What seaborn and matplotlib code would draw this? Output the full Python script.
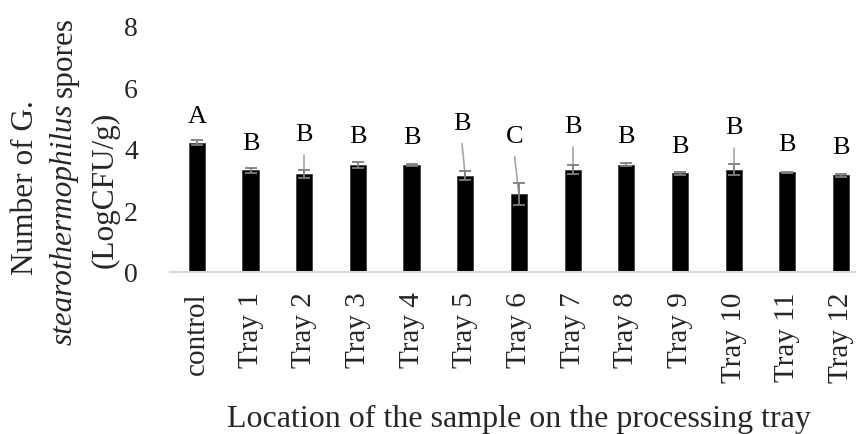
import matplotlib
matplotlib.use("Agg")
import matplotlib.pyplot as plt
import seaborn as sns
import pandas as pd

categories = ["control", "Tray 1", "Tray 2", "Tray 3", "Tray 4", "Tray 5", "Tray 6",
              "Tray 7", "Tray 8", "Tray 9", "Tray 10", "Tray 11", "Tray 12"]
means = [4.20, 3.30, 3.18, 3.47, 3.47, 3.12, 2.52, 3.32, 3.49, 3.20, 3.32, 3.23, 3.14]
errors = [0.09, 0.09, 0.12, 0.10, 0.04, 0.15, 0.36, 0.14, 0.04, 0.05, 0.18, 0.03, 0.05]
letters = ["A", "B", "B", "B", "B", "B", "C", "B", "B", "B", "B", "B", "B"]
letter_y = [5.06, 4.18, 4.48, 4.42, 4.38, 4.84, 4.42, 4.74, 4.41, 4.10, 4.70, 4.15, 4.05]
letter_dx = [0, 0, 0, 0, 0, -0.06, -0.08, 0, 0, 0, 0, 0, 0]
leader = [False, False, True, False, False, True, True, True, False, False, True, False, False]
y_ticks = [0, 2, 4, 6, 8]

sns.set_theme(style="white")
plt.rcParams["font.family"] = ["Liberation Serif", "DejaVu Serif"]

FS_LET = 19
FS_XT = 21
FS_YT = 20
FS_TITLE = 22.5

fig = plt.figure(figsize=(8.56, 4.35), dpi=100)
ax = fig.add_axes([170 / 856, 1 - 272.7 / 435, (856 - 170) / 856, (272.7 - 27) / 435])

df = pd.DataFrame({"loc": categories, "val": means})
sns.barplot(data=df, x="loc", y="val", color="black", width=0.30, ax=ax,
            saturation=1, edgecolor="#404040", linewidth=0.6)
xs = list(range(len(categories)))
ax.errorbar(xs, means, yerr=errors, fmt="none", ecolor="#7f7f7f",
            elinewidth=1.3, capsize=4, capthick=1.3, zorder=3)

for i, (x, lab, ly, dx, ld) in enumerate(zip(xs, letters, letter_y, letter_dx, leader)):
    ax.text(x + dx, ly, lab, ha="center", va="center", fontsize=FS_LET, color="black")
    if ld:
        ax.plot([x + dx, x], [ly - 0.67, means[i]], color="#a6a6a6", lw=1.2, zorder=2)

ax.set_xlim(-0.5, 12.28)
ax.set_ylim(0, 8)
ax.set_yticks(y_ticks)
ax.set_yticklabels([str(t) for t in y_ticks], fontsize=FS_YT)
ax.tick_params(axis="y", length=0, pad=23)
ax.tick_params(axis="x", length=0, pad=14, labelrotation=90, labelsize=FS_XT)
for lbl in ax.get_xticklabels():
    lbl.set_va("top")
ax.set_xlabel("")
ax.set_ylabel("")
for s in ["top", "right", "left"]:
    ax.spines[s].set_visible(False)
ax.spines["bottom"].set_color("#d9d9d9")
ax.spines["bottom"].set_linewidth(1.5)

# x-axis title
fig.text(519 / 856, 1 - 427 / 435, "Location of the sample on the processing tray",
         ha="center", va="baseline", fontsize=23)

# y-axis title (three lines, middle line mixed italic)
fig.text(26 / 856, 1 - 188 / 435, "Number of G.", rotation=90, ha="center", va="center",
         fontsize=FS_TITLE)
fig.text(105 / 856, 1 - 190 / 435, "(LogCFU/g)", rotation=90, ha="center", va="center",
         fontsize=FS_TITLE)
fig.canvas.draw()
r = fig.canvas.get_renderer()
base_x = 72 / 856
t1 = fig.text(base_x, 0.5, "stearothermophilus", rotation=90, rotation_mode="anchor",
              ha="left", va="baseline", fontsize=FS_TITLE, style="italic")
t2 = fig.text(base_x, 0.5, "spores", rotation=90, rotation_mode="anchor",
              ha="left", va="baseline", fontsize=FS_TITLE)
h1 = t1.get_window_extent(renderer=r).height
h2 = t2.get_window_extent(renderer=r).height
gap = 7
total = h1 + gap + h2
center_px = 435 - 181
start_px = center_px - total / 2
t1.set_y(start_px / 435)
t2.set_y((start_px + h1 + gap) / 435)

fig.savefig("out.png", dpi=100)
